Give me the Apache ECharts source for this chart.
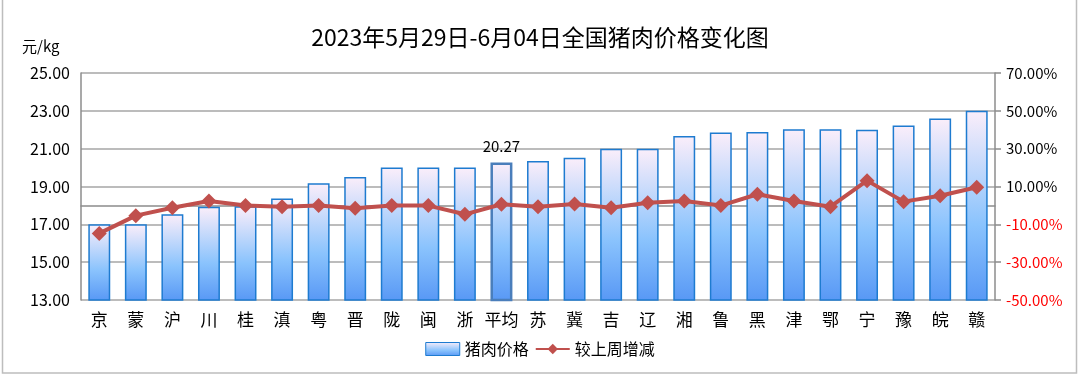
<!DOCTYPE html>
<html>
<head>
    <meta charset="UTF-8">
    <title>全国猪肉价格变化图</title>
    <script src="https://cdn.jsdelivr.net/npm/echarts@6/dist/echarts.min.js"></script>
</head>
<body style="margin: 0;overflow: hidden;background: #fff;">
<div id="chart" style="width: 1080px;height: 378px;"></div>
<script type="text/javascript">
    var regions = ['京', '蒙', '沪', '川', '桂', '滇', '粤', '晋', '陇', '闽', '浙', '平均', '苏', '冀', '吉', '辽', '湘', '鲁', '黑', '津', '鄂', '宁', '豫', '皖', '赣'];
    var prices = [17.00, 17.00, 17.53, 17.93, 17.95, 18.37, 19.17, 19.50, 20.00, 20.00, 20.00, 20.27, 20.35, 20.52, 21.00, 21.00, 21.67, 21.86, 21.88, 22.02, 22.02, 22.00, 22.23, 22.60, 23.00];
    var weekChange = [-14.8, -5.4, -1.2, 2.3, -0.1, -0.7, -0.1, -1.5, -0.1, -0.1, -4.7, 0.6, -0.7, 0.7, -1.2, 1.4, 2.3, -0.1, 5.9, 2.3, -0.7, 13.1, 2.0, 5.1, 9.6];
    var avgName = '平均';

    var font = '"Noto Sans CJK SC", "Noto Sans", sans-serif';
    var chart = echarts.init(document.getElementById('chart'));

    var barFill = new echarts.graphic.LinearGradient(0, 0, 0, 1, [
        {offset: 0, color: '#fbeefa'},
        {offset: 0.6, color: '#8ac3fd'},
        {offset: 1, color: '#5898f5'}
    ]);

    var barData = prices.map(function (v, i) {
        if (regions[i] !== avgName) {
            return v;
        }
        return {
            value: v,
            itemStyle: {borderColor: '#4a7ebb', borderWidth: 2.5},
            label: {
                show: true,
                position: 'top',
                distance: 9,
                color: '#000',
                fontSize: 15,
                fontFamily: font,
                formatter: function (p) {
                    return p.value.toFixed(2);
                }
            }
        };
    });

    var option = {
        animation: false,
        backgroundColor: '#fff',
        title: {
            text: '2023年5月29日-6月04日全国猪肉价格变化图',
            left: 'center',
            top: 21,
            textStyle: {fontSize: 23, fontWeight: 'normal', color: '#000', fontFamily: font}
        },
        graphic: [{
            type: 'rect',
            shape: {x: 2.5, y: -2, width: 1074, height: 375},
            style: {fill: 'none', stroke: '#bdbdbd', lineWidth: 1.5},
            silent: true
        }, {
            type: 'text',
            left: 22,
            top: 39,
            style: {text: '元/kg', fontSize: 15, fill: '#000', fontFamily: font}
        }],
        legend: {
            bottom: 16,
            left: 'center',
            itemGap: 6,
            itemWidth: 34,
            itemHeight: 13,
            textStyle: {fontSize: 16, color: '#000', fontFamily: font},
            data: [{
                name: '猪肉价格',
                icon: 'rect',
                itemStyle: {borderColor: '#1e7bd0', borderWidth: 1}
            }, {
                name: '较上周增减'
            }]
        },
        grid: {left: 81, right: 85, top: 73, bottom: 78},
        xAxis: {
            type: 'category',
            data: regions,
            axisLine: {lineStyle: {color: '#8c8c8c', width: 1.5}},
            axisTick: {show: false},
            axisLabel: {interval: 0, fontSize: 17, color: '#000', margin: 11, fontFamily: font}
        },
        yAxis: [{
            type: 'value',
            min: 13,
            max: 25,
            interval: 2,
            axisLine: {show: true, lineStyle: {color: '#8c8c8c', width: 1.5}},
            axisTick: {show: false},
            axisLabel: {
                fontSize: 16, color: '#000', margin: 11, fontFamily: font,
                formatter: function (v) {
                    return v.toFixed(2);
                }
            },
            splitLine: {lineStyle: {color: '#a6a6a6', width: 1.5}}
        }, {
            type: 'value',
            min: -50,
            max: 70,
            interval: 20,
            axisLine: {show: true, lineStyle: {color: '#8c8c8c', width: 1.5}},
            axisTick: {show: true, length: 6, lineStyle: {color: '#8c8c8c', width: 1.5}},
            axisLabel: {
                fontSize: 15, margin: 11, fontFamily: font,
                color: function (v) {
                    return Number(v) < 0 ? '#ff0000' : '#000';
                },
                formatter: function (v) {
                    return v.toFixed(2) + '%';
                }
            },
            splitLine: {show: false}
        }],
        series: [{
            name: '猪肉价格',
            type: 'bar',
            barWidth: '60%',
            itemStyle: {color: barFill, borderColor: '#1e7bd0', borderWidth: 1.5},
            data: barData
        }, {
            name: '较上周增减',
            type: 'line',
            yAxisIndex: 1,
            symbol: 'diamond',
            symbolSize: 15,
            lineStyle: {color: '#c0504d', width: 4},
            itemStyle: {color: '#c0504d'},
            data: weekChange
        }]
    };
    chart.setOption(option);
</script>
</body>
</html>
